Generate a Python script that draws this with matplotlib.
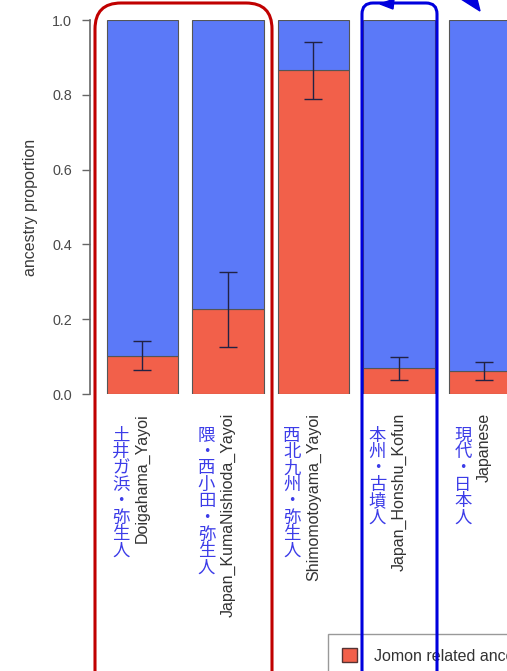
import matplotlib
matplotlib.use("Agg")
import matplotlib.pyplot as plt
from matplotlib.patches import FancyBboxPatch, Patch, Polygon
import numpy as np

# data
groups = ["Doigahama_Yayoi", "Japan_KumaNishioda_Yayoi", "Shimomotoyama_Yayoi",
          "Japan_Honshu_Kofun", "Japanese"]
jp_names = ["土井ガ浜・弥生人", "隈・西小田・弥生人", "西北九州・弥生人",
            "本州・古墳人", "現代・日本人"]
jomon = [0.102, 0.226, 0.866, 0.070, 0.062]
err_lo = [0.065, 0.126, 0.790, 0.037, 0.037]
err_hi = [0.142, 0.325, 0.940, 0.100, 0.085]
legend_labels = ["Jomon related ancestry", "East Asian related ancestry"]

RED = "#f2604a"
BLUE = "#5b79f8"
JP_COLOR = "#3c3ce8"

W, H = 507, 671
fig = plt.figure(figsize=(W / 100, H / 100), dpi=100)
# axes placed in pixels: y=0 at 394px, y=1 at 20px, spine at x=90px
ax = fig.add_axes([90 / W, (H - 394) / H, (W - 90) / W, 374 / H])

x = 0.7 + 1.2 * np.arange(len(groups))
jomon = np.array(jomon)
ax.bar(x, jomon, width=1.0, color=RED, edgecolor="#555555", linewidth=0.8)
ax.bar(x, 1 - jomon, bottom=jomon, width=1.0, color=BLUE, edgecolor="#555555", linewidth=0.8)
yerr = [jomon - np.array(err_lo), np.array(err_hi) - jomon]
ax.errorbar(x, jomon, yerr=yerr, fmt="none", ecolor="#222244", elinewidth=1.0,
            capsize=6.5, capthick=1.0)

ax.set_xlim(-0.036, 5.816)
ax.set_ylim(0, 1)
for s in ["top", "right", "bottom"]:
    ax.spines[s].set_visible(False)
ax.spines["left"].set_color("#666666")
ax.spines["left"].set_linewidth(1.2)
ax.spines["left"].set_bounds(0, 1)
ax.set_xticks([])
ax.set_yticks([0, 0.2, 0.4, 0.6, 0.8, 1.0])
ax.set_yticklabels(["0.0", "0.2", "0.4", "0.6", "0.8", "1.0"])
ax.tick_params(axis="y", length=5.8, width=1.0, color="#666666", pad=7,
               labelsize=10.4, labelcolor="#4a4a4a")
for t in ax.get_yticklabels():
    t.set_family("Liberation Sans")
ax.set_ylabel("ancestry proportion", fontsize=11.5, color="#3a3a3a", family="Liberation Sans")
ax.yaxis.set_label_coords(-0.125, 0.5)

# group labels below the bars
tr = ax.get_xaxis_transform()
for xi, name, jp in zip(x, groups, jp_names):
    ax.text(xi, (394 - 413) / 374, name, rotation=90, ha="center", va="top",
            fontsize=11.5, color="#333333", family="Liberation Sans",
            transform=tr, clip_on=False)
    for k, ch in enumerate(jp):
        ax.text(xi - 0.3, (394 - 435.5 - 16.5 * k) / 374, ch, ha="center", va="center",
                fontsize=12.5, color=JP_COLOR, family=["Noto Sans CJK JP", "DejaVu Sans"],
                transform=tr, clip_on=False)

# legend (cropped at the edge of the picture)
fig.legend(handles=[Patch(facecolor=RED, edgecolor="#553333"),
                    Patch(facecolor=BLUE, edgecolor="#333355")],
           labels=legend_labels, loc="upper left",
           bbox_to_anchor=(328 / W, 1 - 634 / H), borderaxespad=0,
           fancybox=False, edgecolor="#999999", framealpha=1,
           handlelength=0.9, handleheight=0.9, handletextpad=1.1,
           borderpad=0.9, labelspacing=1.0,
           prop={"family": "Liberation Sans", "size": 11.5},
           labelcolor="#333333")

# highlight boxes drawn on top (inches coords, origin bottom-left)
def box(x0, x1, ytop, color, r):
    p = FancyBboxPatch((x0 / 100, -0.5), (x1 - x0) / 100, (H - ytop) / 100 + 0.5,
                       boxstyle=f"round,pad=0,rounding_size={r / 100}",
                       transform=fig.dpi_scale_trans, fill=False,
                       edgecolor=color, linewidth=2.2, zorder=20, clip_on=False)
    fig.add_artist(p)

box(95, 272, 3, "#c00000", 26)
box(362, 437, 3, "#0000dd", 11)

def tri(pts, color):
    pts = [(px / 100, (H - py) / 100) for px, py in pts]
    fig.add_artist(Polygon(pts, closed=True, facecolor=color, edgecolor=color,
                           transform=fig.dpi_scale_trans, zorder=21))

tri([(380, 4), (394, -1), (393, 9)], "#0000dd")
tri([(461, -1), (477, -1), (480, 11)], "#0000dd")

fig.savefig("out.png", dpi=100)
